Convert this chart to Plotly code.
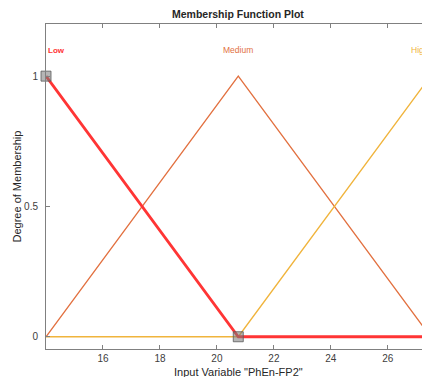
import plotly.graph_objects as go

# Data
mf_names = ["Low", "Medium", "High"]
low_x = [14.0, 20.75, 27.5]
low_y = [1.0, 0.0, 0.0]
med_x = [14.0, 20.75, 27.5]
med_y = [0.0, 1.0, 0.0]
high_x = [14.0, 20.75, 27.5]
high_y = [0.0, 0.0, 1.0]
sel_x = [14.0, 20.75]
sel_y = [1.0, 0.0]
x_ticks = [16, 18, 20, 22, 24, 26]
y_ticks = [0, 0.5, 1]
y_tick_labels = ["0", "0.5", "1"]

x_range = [14.0, 27.2]
y_range = [-0.047, 1.2]

c_low = "#FF3535"
c_med = "#E2703F"
c_high = "#F0B43C"

def xpaper(v):
    return (v - x_range[0]) / (x_range[1] - x_range[0])

fig = go.Figure()
fig.add_trace(go.Scatter(x=med_x, y=med_y, mode="lines", line=dict(color=c_med, width=1.3), hoverinfo="skip"))
fig.add_trace(go.Scatter(x=high_x, y=high_y, mode="lines", line=dict(color=c_high, width=1.3), hoverinfo="skip"))
fig.add_trace(go.Scatter(x=low_x, y=low_y, mode="lines", line=dict(color=c_low, width=2.8), hoverinfo="skip"))
fig.add_trace(go.Scatter(x=sel_x, y=sel_y, mode="markers",
                         marker=dict(symbol="square", size=10, color="rgba(120,120,120,0.55)",
                                     line=dict(color="rgba(90,90,90,0.8)", width=1)),
                         hoverinfo="skip", cliponaxis=False))

# MF labels
fig.add_annotation(x=xpaper(low_x[0]), xref="paper", y=1.1, text="<b>Low</b>", showarrow=False, xanchor="left",
                   font=dict(color=c_low, size=8, family="Liberation Sans"))
fig.add_annotation(x=xpaper(med_x[1]), xref="paper", y=1.1, text="Medium", showarrow=False, xanchor="center",
                   font=dict(color=c_med, size=8.5, family="Liberation Sans"))
fig.add_annotation(x=xpaper(high_x[2]), xref="paper", y=1.1, text="High", showarrow=False, xanchor="right",
                   font=dict(color=c_high, size=8.5, family="Liberation Sans"))

# Title centered over full axes
fig.add_annotation(x=xpaper(20.75), xref="paper", y=1.0, yref="paper", yanchor="bottom", yshift=2,
                   text="<b>Membership Function Plot</b>", showarrow=False,
                   font=dict(color="#262626", size=10.5, family="Liberation Sans"))
# X title centered over full axes
fig.add_annotation(x=xpaper(20.75), xref="paper", y=0.0, yref="paper", yanchor="top", yshift=-15,
                   text='Input Variable "PhEn-FP2"', showarrow=False,
                   font=dict(color="#262626", size=11, family="Liberation Sans"))
# Y title
fig.add_annotation(x=0, xref="paper", xshift=-30, xanchor="center", y=0.5, yref="paper",
                   yanchor="middle", textangle=-90, text="Degree of Membership", showarrow=False,
                   font=dict(color="#262626", size=11, family="Liberation Sans"))

axis_col = "#808080"
fig.update_layout(
    width=422, height=377,
    margin=dict(l=46, r=0, t=24, b=28),
    paper_bgcolor="white", plot_bgcolor="white",
    showlegend=False,
    font=dict(family="Liberation Sans", size=10, color="#404040"),
    xaxis=dict(range=x_range, tickvals=x_ticks, ticks="inside", ticklen=4,
               tickcolor=axis_col, showline=True, linecolor=axis_col, linewidth=1,
               mirror="ticks", showgrid=False, zeroline=False,
               tickfont=dict(size=10, color="#404040")),
    yaxis=dict(range=y_range, tickvals=y_ticks, ticktext=y_tick_labels,
               ticks="inside", ticklen=4, tickcolor=axis_col, showline=True,
               linecolor=axis_col, linewidth=1, showgrid=False, zeroline=False,
               ticklabelstandoff=5,
               tickfont=dict(size=10, color="#404040")),
)

fig.write_html("out.html", config={"displayModeBar": False},
               post_script="document.body.style.margin='0';document.body.style.overflow='hidden';")
